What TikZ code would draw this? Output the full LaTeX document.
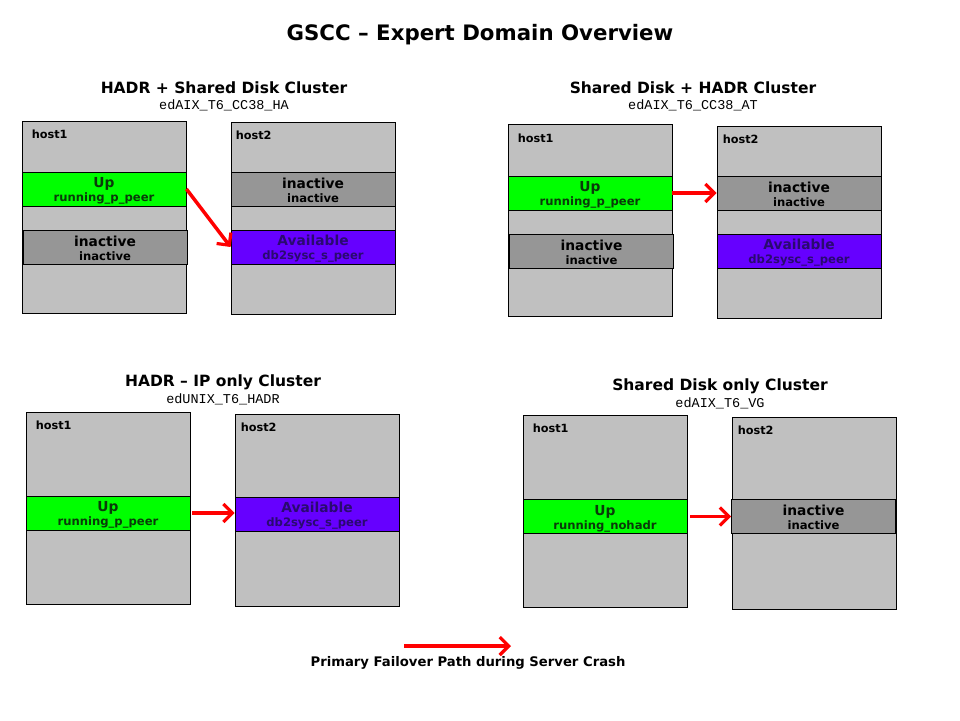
\documentclass[tikz,border=0pt]{standalone}
\usepackage{fontspec}
\setmainfont{DejaVu Sans}
\setmonofont{Liberation Mono}
\usepackage{xcolor}
\usetikzlibrary{arrows.meta,positioning}

\definecolor{cinza}{HTML}{C0C0C0}
\definecolor{cinzaesc}{HTML}{969696}
\definecolor{verde}{HTML}{00FF00}
\definecolor{roxo}{HTML}{6600FF}
\definecolor{verdetxt}{HTML}{0A3A0A}
\definecolor{roxotxt}{HTML}{2A0A70}

% estado: linha grande + linha pequena
\newcommand{\estado}[2]{\rule{0pt}{14pt}{\fontsize{13.8}{14}\selectfont\bfseries #1}\\[2pt]{\fontsize{11.6}{12}\selectfont\bfseries #2}}

\begin{document}
\begin{tikzpicture}[
			x=1pt, y=-1pt,
			host/.style={rectangle, draw, fill=cinza, line width=0.8pt, minimum width=164pt, minimum height=192pt, inner sep=0pt},
			hl/.style={anchor=north west, font=\fontsize{11.3}{12}\selectfont\bfseries, inner sep=0pt},
			bar/.style={rectangle, draw, line width=0.8pt, minimum width=164pt, minimum height=34pt, inner sep=0pt, align=center},
			up/.style={bar, fill=verde, text=verdetxt},
			off/.style={bar, fill=cinzaesc, text=black},
			avail/.style={bar, fill=roxo, text=roxotxt},
			ttl/.style={font=\fontsize{15.5}{17}\selectfont\bfseries},
			sub/.style={font=\fontsize{13.5}{14}\selectfont\ttfamily},
			fail/.style={draw=red, line width=3.5pt, -{Straight Barb[length=9pt, width=18pt, line width=3.2pt]}},
			]
			\useasboundingbox (0,0) rectangle (960,720);
			
			% Título
			\node[font=\fontsize{21.3}{24}\selectfont\bfseries] (titulo) at (480,35) {GSCC -- Expert Domain Overview};
			
			% HADR + Shared Disk
			\node[ttl] (t1) at (224,88) {HADR + Shared Disk Cluster};
			\node[sub] (s1) at (224,105) {edAIX\_T6\_CC38\_HA};
			\node[host] (a1) at (104,217) {};
			\node[host] (a2) at (313,218.5) {};
			\node[hl] at ([shift={(10pt,-9pt)}]a1.north west) {host1};
			\node[hl] at ([shift={(5pt,-9pt)}]a2.north west) {host2};
			\node[up] (a1up) at (104,189) {\estado{Up}{running\_p\_peer}};
			\node[off] (a1off) at (105,247) {\estado{inactive}{inactive}};
			\node[off] (a2off) at (313,189) {\estado{inactive}{inactive}};
			\node[avail] (a2av) at (313,247) {\estado{Available}{db2sysc\_s\_peer}};
			\draw[fail] (a1up.east) -- (a2av.west);
			
			% Shared Disk + HADR
			\node[ttl] (t2) at (693,88) {Shared Disk + HADR Cluster};
			\node[sub] (s2) at (693,105) {edAIX\_T6\_CC38\_AT};
			\node[host] (b1) at (590,220.5) {};
			\node[host] (b2) at (799,222.5) {};
			\node[hl] at ([shift={(10pt,-10pt)}]b1.north west) {host1};
			\node[hl] at ([shift={(6pt,-9pt)}]b2.north west) {host2};
			\node[up] (b1up) at (590,193) {\estado{Up}{running\_p\_peer}};
			\node[off] (b1off) at (591.5,251) {\estado{inactive}{inactive}};
			\node[off] (b2off) at (799,193) {\estado{inactive}{inactive}};
			\node[avail] (b2av) at (799,251) {\estado{Available}{db2sysc\_s\_peer}};
			\draw[fail] (b1up.east) -- (b2off.west);
			
			% HADR - IP only
			\node[ttl] (t3) at (223,382) {HADR -- IP only Cluster};
			\node[sub] (s3) at (223,399) {edUNIX\_T6\_HADR};
			\node[host] (c1) at (108,508) {};
			\node[host] (c2) at (317,510) {};
			\node[hl] at ([shift={(10pt,-9pt)}]c1.north west) {host1};
			\node[hl] at ([shift={(6pt,-9pt)}]c2.north west) {host2};
			\node[up] (c1up) at (108,513) {\estado{Up}{running\_p\_peer}};
			\node[avail] (c2av) at (317,514) {\estado{Available}{db2sysc\_s\_peer}};
			\draw[fail] ([xshift=2pt]c1up.east) -- (c1up.east -| c2av.west);
			
			% Shared Disk only
			\node[ttl] (t4) at (720,386) {Shared Disk only Cluster};
			\node[sub] (s4) at (720,403) {edAIX\_T6\_VG};
			\node[host] (d1) at (605,511.5) {};
			\node[host] (d2) at (814,513) {};
			\node[hl] at ([shift={(10pt,-9pt)}]d1.north west) {host1};
			\node[hl] at ([shift={(6pt,-9pt)}]d2.north west) {host2};
			\node[up] (d1up) at (605,516.5) {\estado{Up}{running\_nohadr}};
			\node[off] (d2off) at (813.5,516) {\estado{inactive}{inactive}};
			\draw[fail] ([xshift=3pt]d1up.east) -- (d1up.east -| d2off.west);
			
			% Legenda
			\coordinate (l0) at (404,646);
			\coordinate (l1) at (511,646);
			\draw[fail] (l0) -- (l1);
			\node[font=\fontsize{13.2}{14}\selectfont\bfseries] (leg) at (468,663) {Primary Failover Path during Server Crash};
			
		\end{tikzpicture}
\end{document}
